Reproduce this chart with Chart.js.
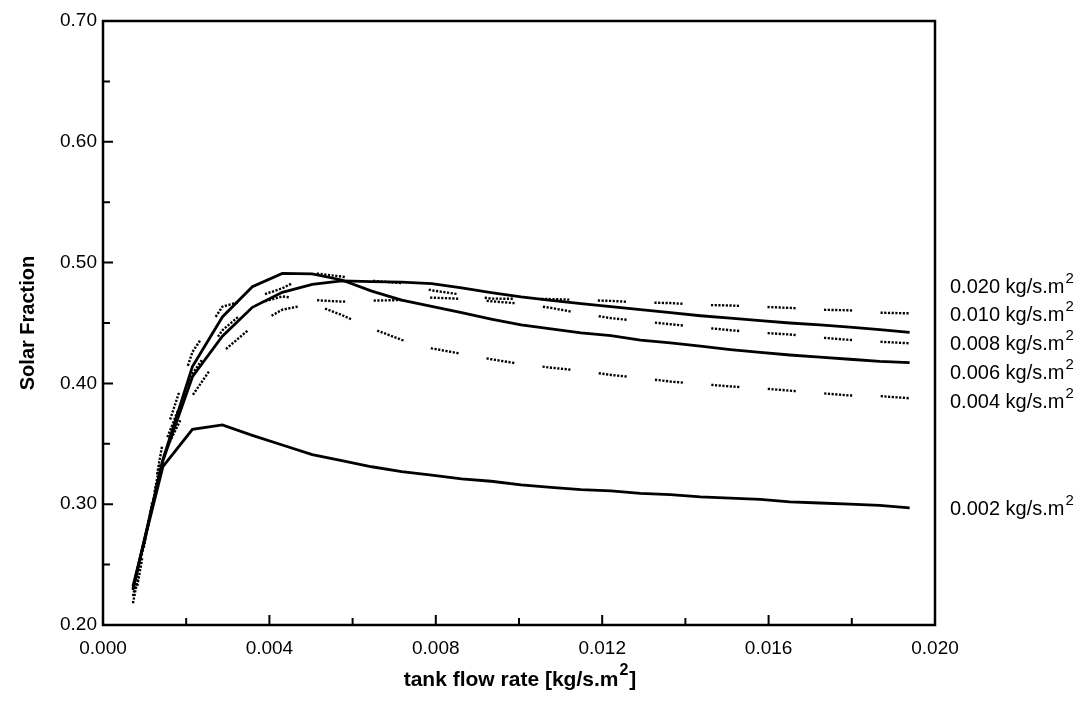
<!DOCTYPE html>
<html>
<head>
<meta charset="utf-8">
<script src="https://cdn.jsdelivr.net/npm/chart.js@4.4.1/dist/chart.umd.min.js"></script>
<style>
  html, body { margin: 0; padding: 0; background: #fff; }
  #wrap { width: 1089px; height: 712px; }
</style>
</head>
<body>
<div id="wrap"><canvas id="chart" width="1089" height="712"></canvas></div>
<script>
// tank flow rate [kg/s.m2]
const flowRate = [0.00072, 0.00144, 0.00215, 0.00287, 0.00359, 0.00431, 0.00503, 0.00574, 0.00646,
  0.00718, 0.0079, 0.00862, 0.00933, 0.01005, 0.01077, 0.01149, 0.01221, 0.01292, 0.01364,
  0.01436, 0.01508, 0.0158, 0.01651, 0.01723, 0.01795, 0.01867, 0.01939];

// solar fraction, one list per collector flow rate
const sf020 = [0.212, 0.352, 0.426, 0.4635, 0.4704, 0.4787, 0.4914, 0.4884, 0.485, 0.483, 0.477, 0.4735,
  0.4702, 0.470, 0.4698, 0.469, 0.4683, 0.467, 0.4665, 0.465, 0.4645, 0.4635, 0.4625, 0.461, 0.4605, 0.4585, 0.458];
const sf010 = [0.229, 0.336, 0.4055, 0.439, 0.463, 0.4754, 0.482, 0.4848, 0.4842, 0.4838, 0.4826, 0.479,
  0.4752, 0.4716, 0.4688, 0.466, 0.4636, 0.461, 0.4585, 0.456, 0.454, 0.452, 0.450, 0.4484, 0.4465, 0.4445, 0.4423];
const sf008 = [0.218, 0.346, 0.408, 0.444, 0.465, 0.472, 0.469, 0.4677, 0.4685, 0.469, 0.471, 0.470,
  0.468, 0.466, 0.4625, 0.458, 0.454, 0.4515, 0.449, 0.4465, 0.444, 0.442, 0.4405, 0.438, 0.436, 0.4345, 0.4332];
const sf006 = [0.230, 0.337, 0.414, 0.455, 0.480, 0.491, 0.4906, 0.4856, 0.4764, 0.469, 0.4637, 0.4585,
  0.4533, 0.4485, 0.4451, 0.4418, 0.4395, 0.4359, 0.4335, 0.4309, 0.428, 0.4256, 0.4235, 0.4217, 0.420, 0.4183, 0.4172];
const sf004 = [0.224, 0.340, 0.390, 0.426, 0.447, 0.461, 0.466, 0.4566, 0.4455, 0.436, 0.429, 0.4245,
  0.420, 0.416, 0.413, 0.4105, 0.407, 0.4045, 0.4015, 0.3995, 0.3975, 0.396, 0.394, 0.392, 0.390, 0.3895, 0.3877];
const sf002 = [0.232, 0.331, 0.362, 0.3656, 0.357, 0.349, 0.341, 0.336, 0.331, 0.327, 0.324, 0.321,
  0.319, 0.316, 0.314, 0.312, 0.311, 0.309, 0.308, 0.306, 0.305, 0.304, 0.302, 0.301, 0.300, 0.299, 0.297];

const collectorFlow = ['0.020', '0.010', '0.008', '0.006', '0.004', '0.002'];
const seriesData = [sf020, sf010, sf008, sf006, sf004, sf002];
const dottedSeries = [true, false, true, false, true, false];

// where the curve names sit on the right (in solar fraction units)
const labelAt = [0.4806, 0.4574, 0.4334, 0.4094, 0.3854, 0.2969];

// row of dots, then a gap
const dotDash = [];
for (let i = 0; i < 8; i++) dotDash.push(2.2, i < 7 ? 1.5 : 28.5);
const dashOffset = [-25, 0, 0, 0, 15, 0];

const datasets = seriesData.map((vals, i) => ({
  label: collectorFlow[i] + ' kg/s.m2',
  data: flowRate.map((f, j) => ({ x: f, y: vals[j] })),
  borderColor: '#000',
  borderWidth: dottedSeries[i] ? 2.4 : 2.8,
  borderDash: dottedSeries[i] ? dotDash : [],
  borderDashOffset: dashOffset[i],
  borderCapStyle: 'butt',
  pointRadius: 0,
  tension: 0,
  fill: false,
}));

const FONT = '"Liberation Sans", Arial, sans-serif';

// frame, inward ticks, titles and curve names
const paperAxes = {
  id: 'paperAxes',
  afterDraw(chart) {
    const { ctx, chartArea: a, scales: { x, y } } = chart;
    ctx.save();
    ctx.strokeStyle = '#000';
    ctx.lineWidth = 2.5;
    ctx.strokeRect(a.left, a.top, a.right - a.left, a.bottom - a.top);
    ctx.lineWidth = 2;
    ctx.beginPath();
    for (let i = 0; i <= 10; i++) {
      const px = x.getPixelForValue(i * 0.002);
      const len = i % 2 === 0 ? 10 : 7;
      ctx.moveTo(px, a.bottom);
      ctx.lineTo(px, a.bottom - len);
    }
    for (let i = 0; i <= 10; i++) {
      const py = y.getPixelForValue(0.2 + i * 0.05);
      const len = i % 2 === 0 ? 10 : 7;
      ctx.moveTo(a.left, py);
      ctx.lineTo(a.left + len, py);
    }
    ctx.stroke();

    ctx.fillStyle = '#000';
    ctx.textBaseline = 'alphabetic';

    // y title
    ctx.save();
    ctx.translate(34, (a.top + a.bottom) / 2);
    ctx.rotate(-Math.PI / 2);
    ctx.font = 'bold 20px ' + FONT;
    ctx.textAlign = 'center';
    ctx.fillText('Solar Fraction', 0, 0);
    ctx.restore();

    // x title with superscript
    const main = 'tank flow rate [kg/s.m';
    ctx.font = 'bold 21px ' + FONT;
    const w1 = ctx.measureText(main).width;
    const wb = ctx.measureText(']').width;
    ctx.font = 'bold 16px ' + FONT;
    const w2 = ctx.measureText('2').width;
    let tx = (a.left + a.right) / 2 - (w1 + w2 + wb) / 2;
    const ty = 686;
    ctx.textAlign = 'left';
    ctx.font = 'bold 21px ' + FONT;
    ctx.fillText(main, tx, ty);
    ctx.font = 'bold 16px ' + FONT;
    ctx.fillText('2', tx + w1 + 1, ty - 11);
    ctx.font = 'bold 21px ' + FONT;
    ctx.fillText(']', tx + w1 + w2 + 2, ty);

    // curve names
    collectorFlow.forEach((c, i) => {
      const py = y.getPixelForValue(labelAt[i]) + 7;
      const px = a.right + 15;
      ctx.font = '20px ' + FONT;
      const t = c + ' kg/s.m';
      ctx.fillText(t, px, py);
      const tw = ctx.measureText(t).width;
      ctx.font = '15px ' + FONT;
      ctx.fillText('2', px + tw + 1, py - 10);
    });
    ctx.restore();
  }
};

new Chart(document.getElementById('chart'), {
  type: 'line',
  data: { datasets },
  options: {
    responsive: false,
    devicePixelRatio: 1,
    animation: false,
    layout: { padding: { top: 21, right: 154, left: 0, bottom: 0 } },
    plugins: { legend: { display: false }, tooltip: { enabled: false } },
    scales: {
      x: {
        type: 'linear',
        min: 0,
        max: 0.02,
        afterFit(scale) { scale.height = 87; },
        grid: { display: false, drawTicks: false },
        border: { display: false },
        ticks: {
          stepSize: 0.004,
          padding: 12,
          color: '#000',
          font: { family: FONT, size: 19 },
          callback: v => v.toFixed(3),
        },
      },
      y: {
        min: 0.2,
        max: 0.7,
        afterFit(scale) { scale.width = 103; },
        grid: { display: false, drawTicks: false },
        border: { display: false },
        ticks: {
          stepSize: 0.1,
          padding: 6,
          color: '#000',
          font: { family: FONT, size: 19 },
          callback: v => v.toFixed(2),
        },
      },
    },
  },
  plugins: [paperAxes],
});
</script>
</body>
</html>
